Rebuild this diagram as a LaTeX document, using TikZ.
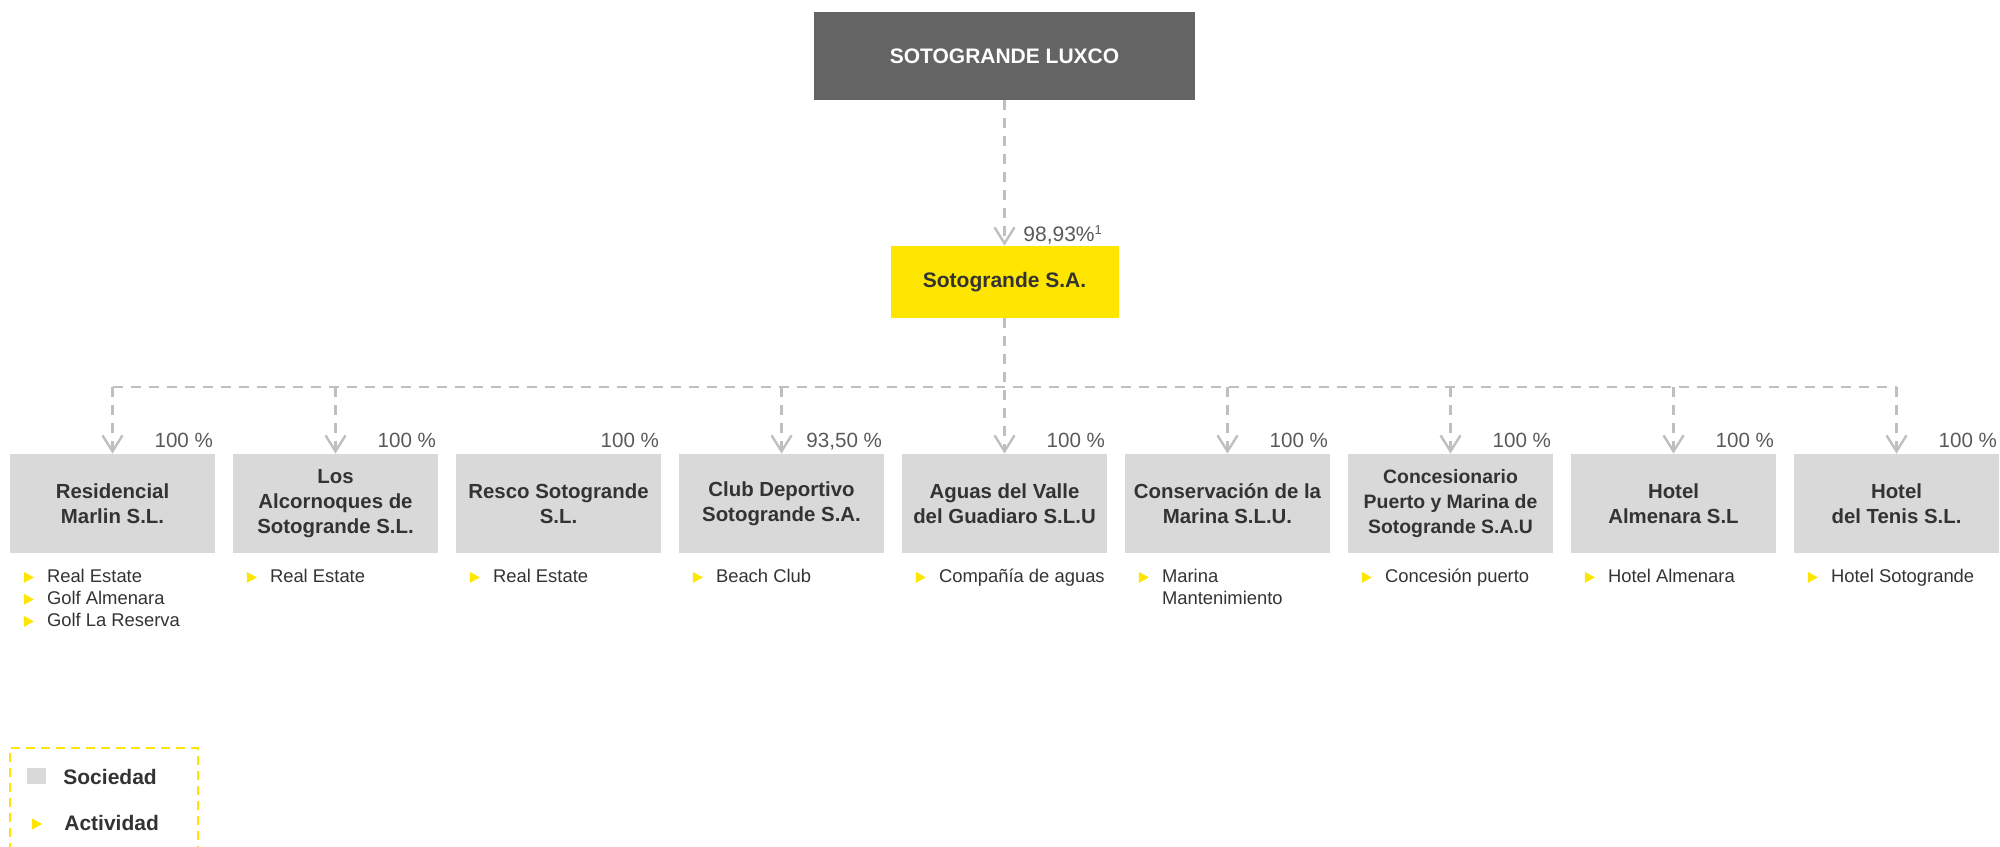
\documentclass[tikz,border=0pt]{standalone}
\usepackage{fontspec}
\setmainfont{Liberation Sans}
\usetikzlibrary{arrows.meta,shapes.geometric}
\definecolor{luxgray}{HTML}{646464}
\definecolor{eyyellow}{HTML}{FFE600}
\definecolor{boxgray}{HTML}{D9D9D9}
\definecolor{linegray}{HTML}{BFBFBF}
\definecolor{txtdark}{HTML}{333333}
\definecolor{pctgray}{HTML}{595959}

\begin{document}
\begin{tikzpicture}[x=0.5pt, y=-0.5pt, >={Straight Barb[length=8pt,width=10pt]},
  holdbox/.style={fill=luxgray, text=white, inner sep=0pt, minimum width=190.5pt, minimum height=44pt, font=\bfseries\fontsize{10.5}{12.5}\selectfont},
  parentbox/.style={fill=eyyellow, text=txtdark, inner sep=0pt, minimum width=114pt, minimum height=36pt, font=\bfseries\fontsize{10.5}{12.5}\selectfont},
  subbox/.style={fill=boxgray, text=txtdark, inner sep=0pt, align=center, minimum width=102.5pt, minimum height=49.5pt, font=\bfseries\fontsize{10.2}{12.5}\selectfont},
  pct/.style={text=pctgray, inner sep=0pt, anchor=base east, font=\fontsize{10.3}{12}\selectfont},
  act/.style={text=txtdark, inner sep=0pt, anchor=base west, font=\fontsize{9.2}{11}\selectfont},
  bul/.style={isosceles triangle, isosceles triangle stretches, fill=eyyellow, inner sep=0pt, minimum width=5.5pt, minimum height=5pt},
  link/.style={draw=linegray, line width=1.2pt, dash pattern=on 5pt off 4pt},
  legendline/.style={draw=eyyellow, line width=1.3pt, dash pattern=on 4.5pt off 3pt},
  legtxt/.style={text=txtdark, inner sep=0pt, anchor=west, font=\bfseries\fontsize{10.5}{12}\selectfont}]
\useasboundingbox (0,0) rectangle (2000,846);

% holding and parent
\node[holdbox] (luxco) at (1004.5,56) {SOTOGRANDE LUXCO};
\node[parentbox] (sa) at (1004.5,282) {Sotogrande S.A.};
\node[pct, anchor=base west, font=\fontsize{10.5}{12}\selectfont] (p0) at ([shift={(18.5,-4)}]sa.north) {98,93\%\raisebox{3.5pt}{\fontsize{6.5}{7}\selectfont 1}};

% subsidiaries
\node[subbox] (c1) at (112.5,503.5) {Residencial\\Marlin S.L.};
\node[subbox] (c2) at (335.5,503.5) {Los\\Alcornoques de\\Sotogrande S.L.};
\node[subbox] (c3) at (558.5,503.5) {Resco Sotogrande\\S.L.};
\node[subbox] (c4) at (781.5,503.5) {Club Deportivo\\Sotogrande S.A.};
\node[subbox] (c5) at (1004.5,503.5) {Aguas del Valle\\del Guadiaro S.L.U};
\node[subbox] (c6) at (1227.5,503.5) {Conservación de la\\Marina S.L.U.};
\node[subbox, font=\bfseries\fontsize{9.7}{12.5}\selectfont] (c7) at (1450.5,503.5) {Concesionario\\Puerto y Marina de\\Sotogrande S.A.U};
\node[subbox] (c8) at (1673.5,503.5) {Hotel\\Almenara S.L};
\node[subbox] (c9) at (1896.5,503.5) {Hotel\\del Tenis S.L.};

% shares
\node[pct] (p1) at ([shift={(-2,-6)}]c1.north east) {100 \%};
\node[pct] (p2) at ([shift={(-2,-6)}]c2.north east) {100 \%};
\node[pct] (p3) at ([shift={(-2,-6)}]c3.north east) {100 \%};
\node[pct] (p4) at ([shift={(-2,-6)}]c4.north east) {93,50 \%};
\node[pct] (p5) at ([shift={(-2,-6)}]c5.north east) {100 \%};
\node[pct] (p6) at ([shift={(-2,-6)}]c6.north east) {100 \%};
\node[pct] (p7) at ([shift={(-2,-6)}]c7.north east) {100 \%};
\node[pct] (p8) at ([shift={(-2,-6)}]c8.north east) {100 \%};
\node[pct] (p9) at ([shift={(-2,-6)}]c9.north east) {100 \%};

% connectors
\coordinate (bus) at (1004.5,387);
\draw[link,->] (luxco.south) -- (sa.north);
\draw[link,->] (sa.south) -- (c5.north);
\draw[link] (c1.north |- bus) -- (c9.north |- bus);
\draw[link,->] (c1.north |- bus) -- (c1.north);
\draw[link,->] (c2.north |- bus) -- (c2.north);
\draw[link,->] (c4.north |- bus) -- (c4.north);
\draw[link,->] (c6.north |- bus) -- (c6.north);
\draw[link,->] (c7.north |- bus) -- (c7.north);
\draw[link,->] (c8.north |- bus) -- (c8.north);
\draw[link,->] (c9.north |- bus) -- (c9.north);

% activities
\node[bul] (b1) at ([shift={(17.5,24)}]c1.south west) {};
\node[act] (a1) at ([shift={(37,29)}]c1.south west) {Real Estate};
\node[bul] (b1b) at ([shift={(17.5,46)}]c1.south west) {};
\node[act] (a1b) at ([shift={(37,51)}]c1.south west) {Golf Almenara};
\node[bul] (b1c) at ([shift={(17.5,68)}]c1.south west) {};
\node[act] (a1c) at ([shift={(37,73)}]c1.south west) {Golf La Reserva};
\node[bul] (b2) at ([shift={(17.5,24)}]c2.south west) {};
\node[act] (a2) at ([shift={(37,29)}]c2.south west) {Real Estate};
\node[bul] (b3) at ([shift={(17.5,24)}]c3.south west) {};
\node[act] (a3) at ([shift={(37,29)}]c3.south west) {Real Estate};
\node[bul] (b4) at ([shift={(17.5,24)}]c4.south west) {};
\node[act] (a4) at ([shift={(37,29)}]c4.south west) {Beach Club};
\node[bul] (b5) at ([shift={(17.5,24)}]c5.south west) {};
\node[act] (a5) at ([shift={(37,29)}]c5.south west) {Compañía de aguas};
\node[bul] (b6) at ([shift={(17.5,24)}]c6.south west) {};
\node[act] (a6) at ([shift={(37,29)}]c6.south west) {Marina};
\node[act] (a6b) at ([shift={(37,51)}]c6.south west) {Mantenimiento};
\node[bul] (b7) at ([shift={(17.5,24)}]c7.south west) {};
\node[act] (a7) at ([shift={(37,29)}]c7.south west) {Concesión puerto};
\node[bul] (b8) at ([shift={(17.5,24)}]c8.south west) {};
\node[act] (a8) at ([shift={(37,29)}]c8.south west) {Hotel Almenara};
\node[bul] (b9) at ([shift={(17.5,24)}]c9.south west) {};
\node[act] (a9) at ([shift={(37,29)}]c9.south west) {Hotel Sotogrande};

% legend
\draw[legendline] (10,852) |- (198,748) -- (198,852);
\node[fill=boxgray, inner sep=0pt, minimum width=9.5pt, minimum height=8pt] (lsq) at (36.5,775.5) {};
\node[legtxt] (lsoc) at (63,777) {Sociedad};
\node[bul] (lbul) at (35.5,824) {};
\node[legtxt] (lact) at (64,823) {Actividad};
\end{tikzpicture}
\end{document}
